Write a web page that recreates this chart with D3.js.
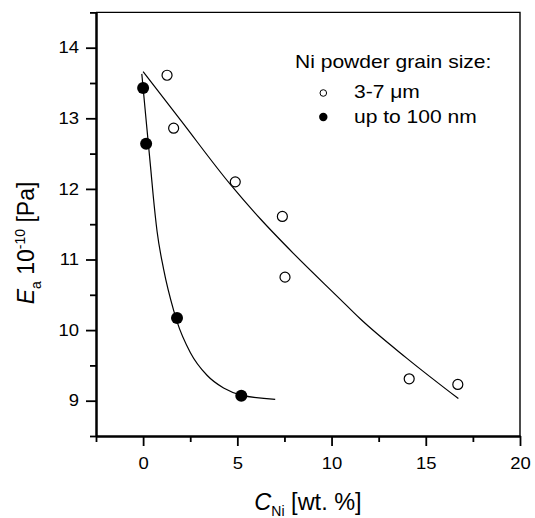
<!DOCTYPE html>
<html>
<head>
<meta charset="utf-8">
<script src="https://cdn.jsdelivr.net/npm/d3@7"></script>
<style>
  html, body { margin: 0; padding: 0; background: #fff; }
  svg text { font-family: "Liberation Sans", Arial, Helvetica, sans-serif; fill: #000; }
</style>
</head>
<body>
<svg id="chart" width="535" height="518"></svg>
<script>
// ---- data ----
const openX = [1.27, 1.62, 4.89, 7.39, 7.53, 14.12, 16.70];
const openY = [13.61, 12.86, 12.10, 11.61, 10.75, 9.31, 9.23];
const filledX = [0, 0.16, 1.80, 5.21];
const filledY = [13.43, 12.64, 10.17, 9.07];
// fitted curves
const openFitX = [0, 2, 4.64, 6.24, 8, 10.41, 11.52, 14.0, 16.73];
const openFitY = [13.66, 12.97, 12.06, 11.57, 11.08, 10.45, 10.16, 9.60, 9.03];
const filledFitX = [-0.07, 0.15, 0.41, 0.53, 0.74, 1.09, 1.62, 1.80, 2.51, 3.39, 4.27, 5.21, 7.01];
const filledFitY = [13.63, 13.0, 12.27, 11.92, 11.40, 10.86, 10.28, 10.12, 9.68, 9.36, 9.18, 9.08, 9.02];
const xMajor = [0, 5, 10, 15, 20];
const xMinor = [-2.5, 2.5, 7.5, 12.5, 17.5];
const yMajor = [9, 10, 11, 12, 13, 14];
const yMinor = [8.5, 9.5, 10.5, 11.5, 12.5, 13.5, 14.5];
const legendTitle = "Ni powder grain size:";
const legendLabels = ["3-7 \u03BCm", "up to 100 nm"];

// ---- layout ----
const svg = d3.select("#chart");
const L = 96, R = 520, T = 12.4, B = 436;
const x = d3.scaleLinear().domain([-2.5, 20]).range([L, R]);
const y = d3.scaleLinear().domain([8.5, 14.5]).range([B, T]);
const SX = 1.12; // horizontal stretch of the original lettering

// frame top/right
svg.append("path")
  .attr("d", `M${L},${T}H${R}V${B}`)
  .attr("fill", "none").attr("stroke", "#000").attr("stroke-width", 1.4);

// axes
function styleAxis(g, width) {
  g.select(".domain").attr("stroke-width", width);
  g.selectAll(".tick line").attr("stroke-width", 1.8);
}
const gxMinor = svg.append("g").attr("transform", `translate(0,${B})`)
  .call(d3.axisBottom(x).tickValues(xMinor).tickSize(6).tickSizeOuter(0).tickFormat(""));
styleAxis(gxMinor, 2);
const gx = svg.append("g").attr("transform", `translate(0,${B})`)
  .call(d3.axisBottom(x).tickValues(xMajor).tickSize(10).tickSizeOuter(0).tickPadding(11).tickFormat(d3.format("d")));
styleAxis(gx, 2);
gx.selectAll(".tick text").attr("font-size", 16.5).attr("transform", `scale(${SX},1)`);

const gyMinor = svg.append("g").attr("transform", `translate(${L},0)`)
  .call(d3.axisLeft(y).tickValues(yMinor).tickSize(6).tickSizeOuter(0).tickFormat(""));
styleAxis(gyMinor, 2);
const gy = svg.append("g").attr("transform", `translate(${L},0)`)
  .call(d3.axisLeft(y).tickValues(yMajor).tickSize(10).tickSizeOuter(0).tickPadding(7).tickFormat(d3.format("d")));
styleAxis(gy, 2);
gy.selectAll(".tick text").attr("font-size", 16.5)
  .attr("x", -17 / SX).attr("transform", `scale(${SX},1)`);
svg.selectAll(".domain").attr("stroke", "#000");

// fit curves
const line = d3.line().x(d => x(d[0])).y(d => y(d[1])).curve(d3.curveMonotoneX);
svg.append("path").datum(d3.zip(openFitX, openFitY))
  .attr("d", line).attr("fill", "none").attr("stroke", "#000").attr("stroke-width", 1.2);
svg.append("path").datum(d3.zip(filledFitX, filledFitY))
  .attr("d", line).attr("fill", "none").attr("stroke", "#000").attr("stroke-width", 1.2);

// points
svg.append("g").selectAll("circle").data(d3.zip(openX, openY)).join("circle")
  .attr("cx", d => x(d[0])).attr("cy", d => y(d[1])).attr("r", 5)
  .attr("fill", "#fff").attr("stroke", "#000").attr("stroke-width", 1.2);
svg.append("g").selectAll("circle").data(d3.zip(filledX, filledY)).join("circle")
  .attr("cx", d => x(d[0])).attr("cy", d => y(d[1])).attr("r", 6)
  .attr("fill", "#000");

// legend
function stretchedText(g, px, py, txt, size) {
  return g.append("text").attr("transform", `translate(${px},${py}) scale(${SX},1)`)
    .attr("font-size", size).text(txt);
}
const lg = svg.append("g");
stretchedText(lg, 295, 68, legendTitle, 18.8);
lg.append("circle").attr("cx", 323.3).attr("cy", 93).attr("r", 3.3)
  .attr("fill", "#fff").attr("stroke", "#000").attr("stroke-width", 1);
stretchedText(lg, 354, 98.3, legendLabels[0], 18.8);
lg.append("circle").attr("cx", 323.3).attr("cy", 117).attr("r", 4.2).attr("fill", "#000");
stretchedText(lg, 354, 123.3, legendLabels[1], 18.8);

// x title
const xt = svg.append("text").attr("x", 308).attr("y", 510)
  .attr("text-anchor", "middle").attr("font-size", 23.5);
xt.append("tspan").attr("font-style", "italic").text("C");
xt.append("tspan").attr("font-size", 14).attr("dy", 6).text("Ni");
xt.append("tspan").attr("dy", -6).text(" [wt. %]");

// y title
const yt = svg.append("text").attr("transform", "translate(33.5,243) rotate(-90)")
  .attr("text-anchor", "middle").attr("font-size", 23);
yt.append("tspan").attr("font-style", "italic").text("E");
yt.append("tspan").attr("font-size", 14).attr("dy", 7).text("a");
yt.append("tspan").attr("dy", -7).text(" 10");
yt.append("tspan").attr("font-size", 14).attr("dy", -9).text("-10");
yt.append("tspan").attr("dy", 9).text(" [Pa]");
</script>
</body>
</html>
